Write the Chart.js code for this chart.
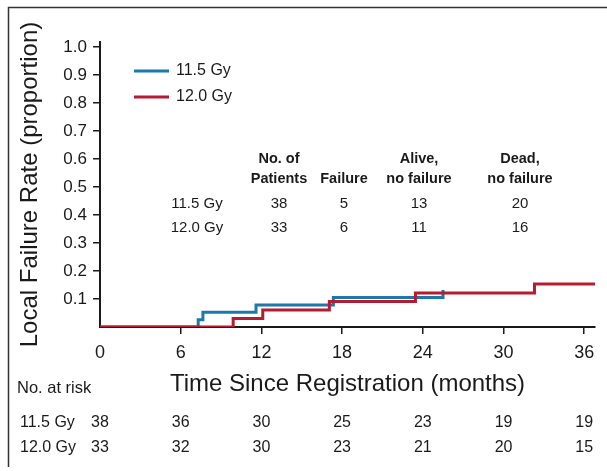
<html lang="en">
<head>
<meta charset="utf-8">
<script src="https://cdn.jsdelivr.net/npm/chart.js@4.4.1/dist/chart.umd.min.js"></script>
<style>
    body { margin: 0; background: #fff; }
</style>
</head>
<body>
<canvas id="kmChart" width="607" height="471"></canvas>

<script>
    const FONT = "'Liberation Sans', Arial, Helvetica, sans-serif"

    // local failure curves (months, cumulative proportion failed)
    const groups = ['11.5 Gy', '12.0 Gy']
    const months115 = [0, 7.3, 7.65, 11.6, 17.35, 25.5]
    const failure115 = [0, 0.026, 0.053, 0.079, 0.105, 0.132]
    const months120 = [0, 9.9, 12.1, 17.05, 23.45, 32.3, 36.8]
    const failure120 = [0, 0.030, 0.061, 0.091, 0.121, 0.154, 0.154]

    // summary table inside the plot
    const tableHeadTop = ['No. of', '', 'Alive,', 'Dead,']
    const tableHeadBottom = ['Patients', 'Failure', 'no failure', 'no failure']
    const patients = [38, 33]
    const failures = [5, 6]
    const aliveNoFailure = [13, 11]
    const deadNoFailure = [20, 16]

    // numbers at risk under the axis
    const riskMonths = [0, 6, 12, 18, 24, 30, 36]
    const atRisk115 = [38, 36, 30, 25, 23, 19, 19]
    const atRisk120 = [33, 32, 30, 23, 21, 20, 15]

    const blue = '#1c79ae'
    const red = '#b51b31'
    const ink = '#1a1a1a'

    function points(xs, ys) {
        return xs.map((x, i) => ({ x: x, y: ys[i] }))
    }

    function text(ctx, str, x, y, size, align, bold) {
        ctx.font = (bold ? 'bold ' : '') + size + 'px ' + FONT
        ctx.textAlign = align
        ctx.textBaseline = 'middle'
        ctx.fillStyle = ink
        ctx.fillText(str, x, y)
    }

    const extras = {
        id: 'extras',
        afterDraw(chart) {
            const ctx = chart.ctx
            const xs = chart.scales.x
            ctx.save()

            // frame (top and left edges)
            ctx.strokeStyle = '#333'
            ctx.lineWidth = 1.5
            ctx.beginPath()
            ctx.moveTo(8.5, 467)
            ctx.lineTo(8.5, 7.5)
            ctx.lineTo(607, 7.5)
            ctx.stroke()

            // legend
            const legendColors = [blue, red]
            groups.forEach((g, i) => {
                const y = 71 + i * 26
                ctx.strokeStyle = legendColors[i]
                ctx.lineWidth = 3
                ctx.beginPath()
                ctx.moveTo(134, y)
                ctx.lineTo(169, y)
                ctx.stroke()
                text(ctx, g, 176, y, 16, 'left')
            })

            // summary table
            const cols = [279, 344, 419, 520]
            cols.forEach((cx, i) => {
                text(ctx, tableHeadTop[i], cx, 159, 14.5, 'center', true)
                text(ctx, tableHeadBottom[i], cx, 179, 14.5, 'center', true)
            })
            const rows = [patients, failures, aliveNoFailure, deadNoFailure]
            groups.forEach((g, r) => {
                const y = 204 + r * 24
                text(ctx, g, 197, y, 15, 'center')
                rows.forEach((col, c) => text(ctx, String(col[r]), cols[c], y, 15, 'center'))
            })

            // numbers at risk
            text(ctx, 'No. at risk', 17, 388, 16.5, 'left')
            const risk = [atRisk115, atRisk120]
            groups.forEach((g, r) => {
                const y = 423 + r * 25
                text(ctx, g, 20, y, 16, 'left')
                riskMonths.forEach((m, i) => {
                    text(ctx, String(risk[r][i]), xs.getPixelForValue(m), y, 16, 'center')
                })
            })
            ctx.restore()
        }
    }

    const ctx = document.getElementById('kmChart')
    let chart = new Chart(ctx, {
        type: 'line',
        data: {
            datasets: [{
                label: groups[1],
                data: points(months120, failure120),
                borderColor: red,
                borderWidth: 3,
                stepped: true,
                pointRadius: 0,
                fill: false
            }, {
                label: groups[0],
                data: points(months115, failure115),
                borderColor: blue,
                borderWidth: 3,
                stepped: true,
                pointRadius: 0,
                fill: false
            }]
        },
        options: {
            responsive: false,
            animation: false,
            devicePixelRatio: 1,
            layout: { padding: { left: 0, top: 42, right: 12, bottom: 0 } },
            plugins: {
                legend: { display: false },
                tooltip: { enabled: false }
            },
            scales: {
                x: {
                    type: 'linear',
                    min: 0,
                    max: 36.8,
                    afterFit: s => { s.height = 144 },
                    border: { display: true, color: ink, width: 2 },
                    grid: {
                        drawOnChartArea: false,
                        tickLength: 7,
                        lineWidth: 1.5,
                        color: c => (c.tick && c.tick.value === 0) ? 'rgba(0,0,0,0)' : ink
                    },
                    ticks: {
                        stepSize: 6,
                        includeBounds: false,
                        padding: 8,
                        color: ink,
                        font: { family: FONT, size: 18 },
                        maxRotation: 0
                    },
                    title: {
                        display: true,
                        text: 'Time Since Registration (months)',
                        color: ink,
                        font: { family: FONT, size: 24 },
                        padding: { top: 0, bottom: 72 }
                    }
                },
                y: {
                    min: 0,
                    max: 1.018,
                    afterFit: s => { s.width = 100 },
                    border: { display: true, color: ink, width: 2 },
                    grid: {
                        drawOnChartArea: false,
                        tickLength: 7,
                        lineWidth: 1.5,
                        color: ink
                    },
                    ticks: {
                        stepSize: 0.1,
                        includeBounds: false,
                        padding: 6,
                        color: ink,
                        font: { family: FONT, size: 17 },
                        callback: v => v < 0.05 ? null : v.toFixed(1)
                    },
                    title: {
                        display: true,
                        text: 'Local Failure Rate (proportion)',
                        color: ink,
                        font: { family: FONT, size: 24 },
                        padding: { top: 16, bottom: 0 }
                    }
                }
            }
        },
        plugins: [extras]
    })
</script>
</body>
</html>
